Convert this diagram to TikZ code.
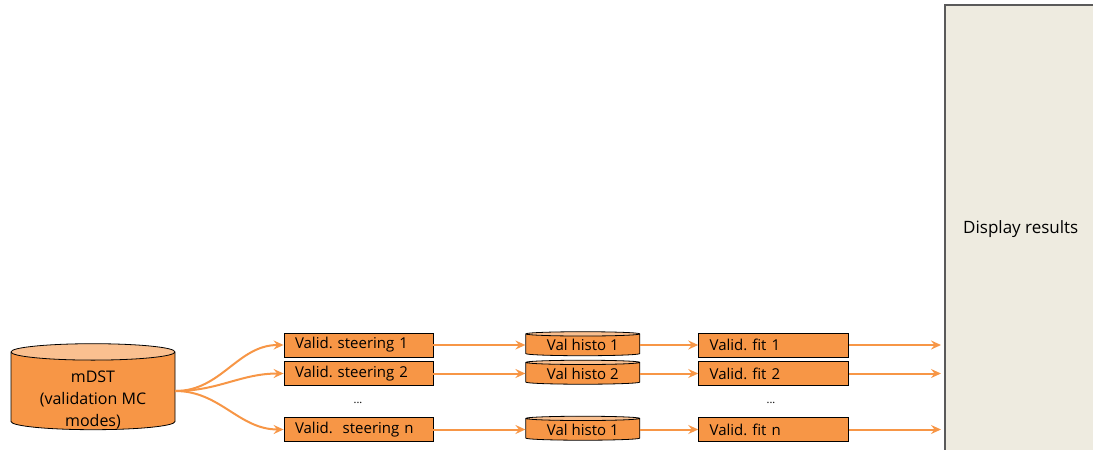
\documentclass[tikz,border=0pt]{standalone}
\usepackage{fontspec}
\setmainfont{Open Sans}
\usetikzlibrary{positioning,shapes.geometric,arrows.meta}
\definecolor{boxorange}{HTML}{F79646}
\definecolor{lightorange}{HTML}{FAC090}
\definecolor{paneltan}{HTML}{EEEBE0}
\definecolor{panelgray}{HTML}{5A5A5A}

\begin{document}
\frenchspacing
\begin{tikzpicture}[x=1pt,y=-1pt,
  font=\fontsize{15}{17}\selectfont,
  stepbox/.style={draw=black, fill=boxorange, line width=0.8pt,
    minimum height=24pt, inner ysep=0pt, inner xsep=11pt, align=left},
  histo/.style={cylinder, shape border rotate=90, draw=black, line width=0.8pt,
    cylinder uses custom fill, cylinder body fill=boxorange,
    cylinder end fill=lightorange, minimum width=114pt, minimum height=24pt,
    aspect=0.06, inner sep=0pt},
  flow/.style={draw=boxorange, line width=2pt,
    -{Stealth[length=10pt,width=9pt,inset=3.5pt]}}]
    \useasboundingbox (0,0) rectangle (1093,450);
    \clip (0,0) rectangle (1093,450);
    % source data
    \node[cylinder, shape border rotate=90, draw=black, line width=0.8pt,
      cylinder uses custom fill, cylinder body fill=boxorange,
      cylinder end fill=lightorange, text width=164pt, minimum height=86pt,
      aspect=0.1, inner sep=0pt] (mdst) at (93,391) {};
    \node[align=center, font=\fontsize{16}{22}\selectfont] (mdsttext)
      at ([yshift=-8.5pt]mdst.center) {mDST\\(validation MC\\modes)};
    % steering jobs
    \node[stepbox, text width=127pt] (s1) at (358.5,345) {Valid. steering 1};
    \node[stepbox, text width=127pt] (s2) at (358.5,373.5) {Valid. steering 2};
    \node[stepbox, text width=127pt] (sn) at (358.5,429.5) {Valid.\ \ steering n};
    \node[font=\fontsize{11}{12}\selectfont] (sdots) at (358,403) {...};
    % histograms
    \node[histo, right=92pt of s1] (h1) {Val histo 1};
    \node[histo, right=92pt of s2] (h2) {Val histo 2};
    \node[histo, right=92pt of sn] (hn) {Val histo 1};
    % fits
    \node[stepbox, text width=128pt, right=58pt of h1] (f1) {Valid. fit 1};
    \node[stepbox, text width=128pt, right=58pt of h2] (f2) {Valid. fit 2};
    \node[stepbox, text width=128pt, right=58pt of hn] (fn) {Valid. fit n};
    \node[font=\fontsize{11}{12}\selectfont] (fdots) at (771,403) {...};
    % display
    \node[draw=panelgray, fill=paneltan, line width=1.5pt, anchor=north west,
      minimum width=152pt, minimum height=448pt,
      font=\fontsize{17}{20}\selectfont] (disp) at (944,4) {Display results};
    %
    \draw[flow] (mdst.east) to[out=0,in=180] (s1.west);
    \draw[flow] (mdst.east) to[out=0,in=180] (s2.west);
    \draw[flow] (mdst.east) to[out=0,in=180] (sn.west);
    \draw[flow] (s1.east) -- (h1.west);
    \draw[flow] (s2.east) -- (h2.west);
    \draw[flow] (sn.east) -- (hn.west);
    \draw[flow] (h1.east) -- (f1.west);
    \draw[flow] (h2.east) -- (f2.west);
    \draw[flow] (hn.east) -- (fn.west);
    \draw[flow, shorten >=3pt] (f1.east) -- (f1.east -| disp.west);
    \draw[flow, shorten >=3pt] (f2.east) -- (f2.east -| disp.west);
    \draw[flow, shorten >=3pt] (fn.east) -- (fn.east -| disp.west);
\end{tikzpicture}
\end{document}
